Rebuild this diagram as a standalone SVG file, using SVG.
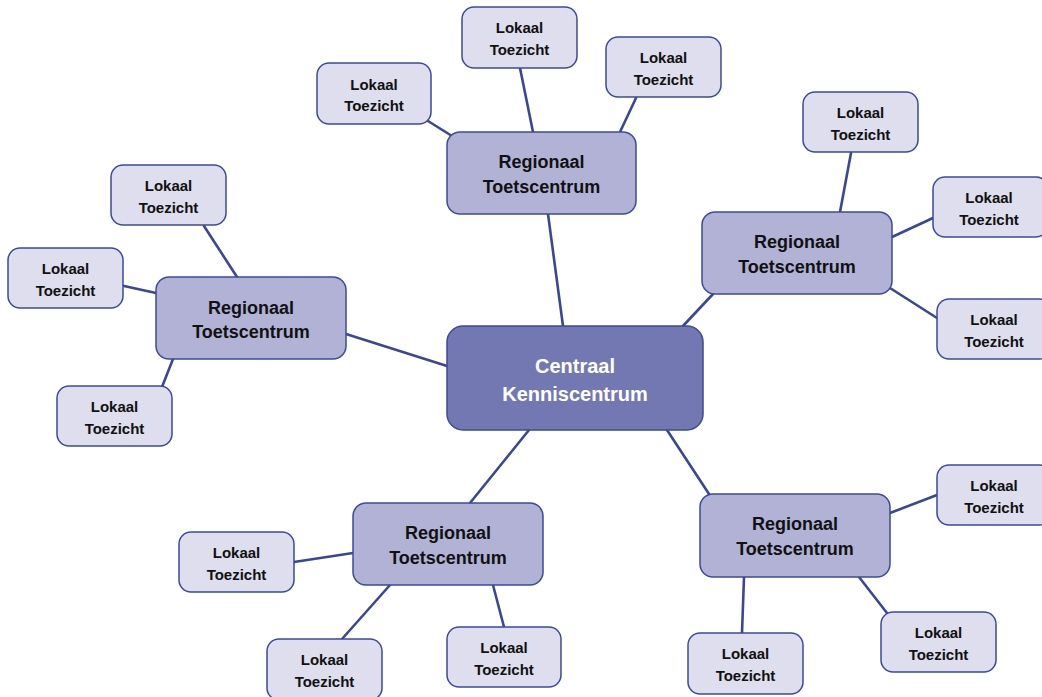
<svg xmlns="http://www.w3.org/2000/svg" width="1042" height="697" viewBox="0 0 1042 697">
<style>
.c{stroke:#3a4795;stroke-width:2.6;fill:none;stroke-linecap:round}
.n rect{stroke:#3d4a98;stroke-width:1.5}
.central rect{fill:#7478b2}
.reg rect{fill:#b1b2d6}
.lok rect{fill:#dedeee}
text{font-family:"Liberation Sans",Arial,sans-serif;font-weight:bold;text-anchor:middle;fill:#111}
.central text{fill:#fff;font-size:20px}
.reg text{font-size:18px}
.lok text{font-size:15px}
</style>
<rect width="1042" height="697" fill="#fff"/>
<g id="connectors">
<line class="c" x1="548" y1="214" x2="563" y2="326"/>
<line class="c" x1="346" y1="334" x2="447" y2="366"/>
<line class="c" x1="683" y1="326" x2="713" y2="294"/>
<line class="c" x1="667" y1="430" x2="709" y2="494"/>
<line class="c" x1="529" y1="430" x2="470" y2="503"/>
<line class="c" x1="428" y1="121" x2="452" y2="136"/>
<line class="c" x1="520" y1="68" x2="533" y2="132"/>
<line class="c" x1="636" y1="98" x2="620" y2="132"/>
<line class="c" x1="204" y1="226" x2="237" y2="277"/>
<line class="c" x1="124" y1="286" x2="156" y2="293"/>
<line class="c" x1="173" y1="359" x2="162" y2="387"/>
<line class="c" x1="851" y1="153" x2="840" y2="212"/>
<line class="c" x1="892" y1="237" x2="933" y2="218"/>
<line class="c" x1="890" y1="288" x2="937" y2="318"/>
<line class="c" x1="890" y1="513" x2="937" y2="495"/>
<line class="c" x1="859" y1="577" x2="887" y2="613"/>
<line class="c" x1="744" y1="577" x2="742" y2="633"/>
<line class="c" x1="294" y1="562" x2="353" y2="553"/>
<line class="c" x1="342" y1="639" x2="390" y2="585"/>
<line class="c" x1="493" y1="585" x2="504" y2="627"/>
</g>
<g id="central" class="n central"><rect x="447" y="326" width="256" height="104" rx="16"/><text x="575" y="373">Centraal</text><text x="575" y="401">Kenniscentrum</text></g>
<g id="reg-top" class="n reg"><rect x="447" y="132" width="189" height="82" rx="13"/><text x="541.5" y="168">Regionaal</text><text x="541.5" y="193">Toetscentrum</text></g>
<g id="reg-left" class="n reg"><rect x="156" y="277" width="190" height="82" rx="13"/><text x="251" y="314">Regionaal</text><text x="251" y="338">Toetscentrum</text></g>
<g id="reg-right" class="n reg"><rect x="702" y="212" width="190" height="82" rx="13"/><text x="797" y="248">Regionaal</text><text x="797" y="273">Toetscentrum</text></g>
<g id="reg-lowright" class="n reg"><rect x="700" y="494" width="190" height="83" rx="13"/><text x="795" y="530">Regionaal</text><text x="795" y="555">Toetscentrum</text></g>
<g id="reg-lowleft" class="n reg"><rect x="353" y="503" width="190" height="82" rx="13"/><text x="448" y="539">Regionaal</text><text x="448" y="564">Toetscentrum</text></g>
<g id="lok1" class="n lok"><rect x="317" y="63" width="114" height="61" rx="12"/><text x="374" y="90">Lokaal</text><text x="374" y="111">Toezicht</text></g>
<g id="lok2" class="n lok"><rect x="462" y="7" width="115" height="61" rx="12"/><text x="519.5" y="33">Lokaal</text><text x="519.5" y="55">Toezicht</text></g>
<g id="lok3" class="n lok"><rect x="606" y="37" width="115" height="60" rx="12"/><text x="663.5" y="63">Lokaal</text><text x="663.5" y="85">Toezicht</text></g>
<g id="lok4" class="n lok"><rect x="111" y="165" width="115" height="60" rx="12"/><text x="168.5" y="191">Lokaal</text><text x="168.5" y="213">Toezicht</text></g>
<g id="lok5" class="n lok"><rect x="8" y="248" width="115" height="60" rx="12"/><text x="65.5" y="274">Lokaal</text><text x="65.5" y="296">Toezicht</text></g>
<g id="lok6" class="n lok"><rect x="57" y="386" width="115" height="60" rx="12"/><text x="114.5" y="412">Lokaal</text><text x="114.5" y="434">Toezicht</text></g>
<g id="lok7" class="n lok"><rect x="803" y="92" width="115" height="60" rx="12"/><text x="860.5" y="118">Lokaal</text><text x="860.5" y="140">Toezicht</text></g>
<g id="lok8" class="n lok"><rect x="933" y="177" width="115" height="60" rx="12"/><text x="989" y="203">Lokaal</text><text x="989" y="225">Toezicht</text></g>
<g id="lok9" class="n lok"><rect x="937" y="299" width="115" height="60" rx="12"/><text x="994" y="325">Lokaal</text><text x="994" y="347">Toezicht</text></g>
<g id="lok10" class="n lok"><rect x="937" y="465" width="115" height="60" rx="12"/><text x="994" y="491">Lokaal</text><text x="994" y="513">Toezicht</text></g>
<g id="lok11" class="n lok"><rect x="881" y="612" width="115" height="60" rx="12"/><text x="938.5" y="638">Lokaal</text><text x="938.5" y="660">Toezicht</text></g>
<g id="lok12" class="n lok"><rect x="688" y="633" width="115" height="61" rx="12"/><text x="745.5" y="659">Lokaal</text><text x="745.5" y="681">Toezicht</text></g>
<g id="lok13" class="n lok"><rect x="179" y="532" width="115" height="60" rx="12"/><text x="236.5" y="558">Lokaal</text><text x="236.5" y="580">Toezicht</text></g>
<g id="lok14" class="n lok"><rect x="267" y="639" width="115" height="61" rx="12"/><text x="324.5" y="665">Lokaal</text><text x="324.5" y="687">Toezicht</text></g>
<g id="lok15" class="n lok"><rect x="447" y="627" width="114" height="60" rx="12"/><text x="504" y="653">Lokaal</text><text x="504" y="675">Toezicht</text></g>
</svg>
